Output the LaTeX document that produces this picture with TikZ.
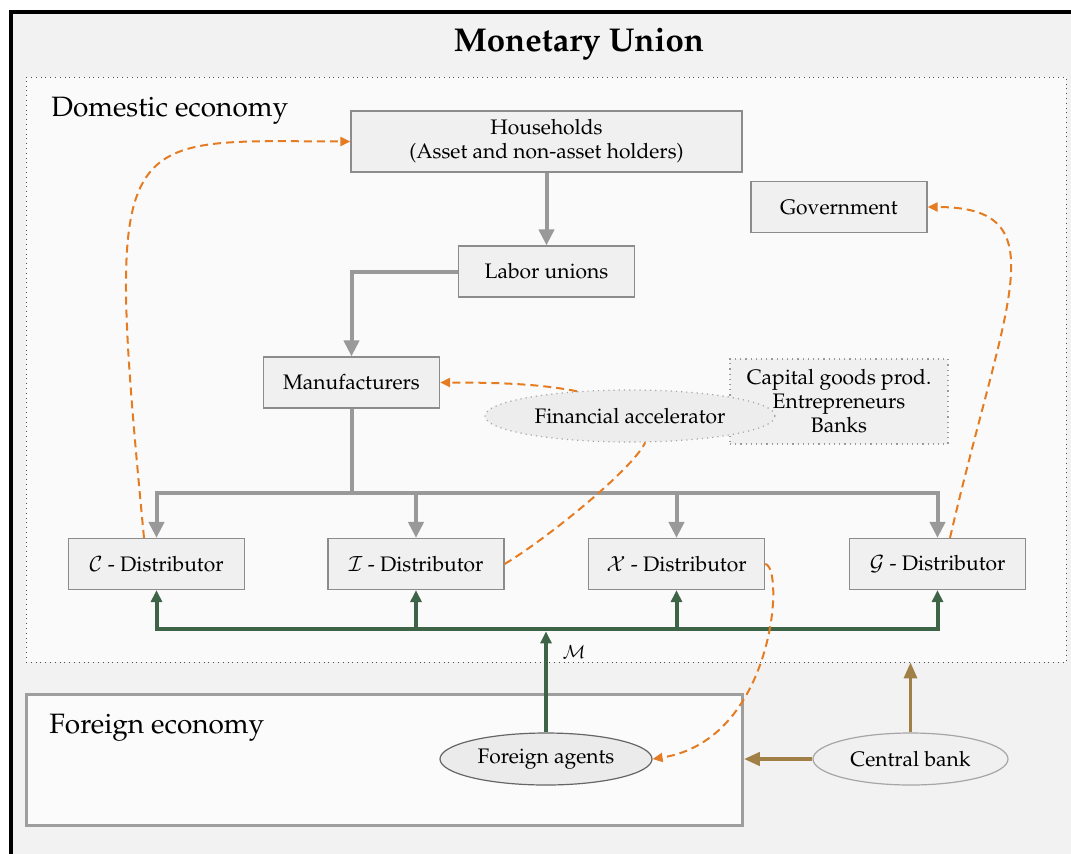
\documentclass[tikz,border=0pt]{standalone}
\usepackage[T1]{fontenc}
\usepackage{mathpazo}
\usepackage{tikz}
\usetikzlibrary{arrows.meta,shapes.geometric}
\definecolor{spillorange}{RGB}{230,124,34}
\definecolor{moneygreen}{RGB}{62,100,72}
\definecolor{policybrown}{RGB}{160,128,70}
\def\bodyfont{\fontsize{10.5}{12}\selectfont}
\tikzset{
	agent/.style={draw=black!45, fill=black!6, line width=0.6pt, minimum width=88pt, minimum height=25.5pt, inner sep=1pt, align=center, font=\bodyfont},
	sector/.style={ellipse, draw=black!45, fill=black!7, line width=0.6pt, minimum height=26pt, inner sep=0pt, font=\bodyfont},
	goods/.style={line width=2pt, color=black!40, -{Triangle[length=8pt, width=7.5pt]}},
	money/.style={line width=2pt, color=moneygreen, -{Triangle[length=6pt, width=5.5pt]}},
	policy/.style={color=policybrown, -{Triangle[length=8pt, width=6.5pt]}},
	spill/.style={line width=1pt, color=spillorange, dash pattern=on 4pt off 2.5pt},
	spillto/.style={spill, -{Triangle[length=5pt, width=4.5pt]}}
}

\begin{document}
\begin{tikzpicture}[x=0.5pt, y=0.5pt]
		%%%%% START %%%%%
		
		\useasboundingbox (0, 0) rectangle (1071, -853);
		\clip (0, 0) rectangle (1071, -853);
		\fill[white] (0, 0) rectangle (1071, -853);
		\draw[line width=2pt, fill=black!5] (10.5, -12) rectangle (1100, -900);
		
		\node[font=\fontsize{16.5}{20}\selectfont\bfseries, anchor=base] (title) at (579, -51.5) {Monetary Union};
		
		\node[draw=black!70, dotted, fill=black!2, minimum width=520pt, minimum height=292.5pt, inner sep=0pt] (dom) at (546, -369.5) {};
		\node[font=\fontsize{14}{16}\selectfont, anchor=base west, inner sep=0pt] (domlabel) at (51, -116) {Domestic economy};
		
		\node[draw=black!38, line width=1.6pt, fill=black!1.5, minimum width=358pt, minimum height=65.5pt, inner sep=0pt] (fe) at (384.25, -760.3) {};
		\node[font=\fontsize{14}{16}\selectfont, anchor=base west, inner sep=0pt] (felabel) at (49, -733) {Foreign economy};
		
		\node[agent, minimum width=195.5pt, minimum height=30.5pt] (hh) at (546.5, -141.5) {Households\\(Asset and non-asset holders)};
		\node[agent] (gov) at (839, -207) {Government};
		\node[agent] (lab) at (546.5, -271.5) {Labor unions};
		\node[agent] (man) at (351.5, -382.5) {Manufacturers};
		\node[agent, dotted, draw=black!40, minimum width=109pt, minimum height=42.5pt] (cap) at (839, -401.5) {Capital goods prod.\\Entrepreneurs\\Banks};
		\node[sector, dotted, draw=black!35, minimum width=145pt] (fa) at (630, -416) {Financial accelerator};
		
		\node[agent] (cd) at (156.5, -564) {$\mathcal{C}$ - Distributor};
		\node[agent] (id) at (416, -564) {$\mathcal{I}$ - Distributor};
		\node[agent] (xd) at (676.5, -564) {$\mathcal{X}$ - Distributor};
		\node[agent] (gd) at (937.5, -564) {$\mathcal{G}$ - Distributor};
		
		\node[sector, draw=black!60, fill=black!8, minimum width=106pt] (fag) at (546, -759) {Foreign agents};
		\node[sector, draw=black!35, fill=black!6, minimum width=97.5pt] (cb) at (910.5, -759) {Central bank};
		
		% goods flow
		\draw[goods] (hh) -- (lab);
		\draw[goods] (lab.west) -| (man.north);
		\draw[line width=2pt, color=black!40] (man.south) -- ++(0, -84) coordinate (hub);
		\draw[goods] (hub) -| (cd.north);
		\draw[goods] (hub) -| (gd.north);
		\draw[goods] (id.north |- hub) -- (id.north);
		\draw[goods] (xd.north |- hub) -- (xd.north);
		
		% imports
		\path (fag.north) ++(0, 103) coordinate (mhub);
		\draw[money] (mhub) -| (cd.south);
		\draw[money] (mhub) -| (gd.south);
		\draw[money] (id.south |- mhub) -- (id.south);
		\draw[money] (xd.south |- mhub) -- (xd.south);
		\draw[money] (fag.north) -- ([yshift=-1pt]mhub) node[pos=0.8, right=4pt, font=\small, text=black] {$\mathcal{M}$};
		
		% central bank
		\draw[policy, line width=2.4pt] (cb.west) -- (cb.west -| fe.east);
		\draw[policy, line width=1.6pt] (cb.north) -- (cb.north |- dom.south);
		
		% spillovers
		\draw[spillto] ([xshift=-6.25pt]cd.north) .. controls (104, -120) and (115, -141) .. (hh.west);
		\draw[spillto] (fa.155) .. controls (540, -384) and (500, -382.5) .. (man.east);
		\draw[spill] (id.east) .. controls (545, -540) and (632, -470) .. (fa.-60);
		\draw[spillto] ([xshift=6.25pt]gd.north) .. controls (1005, -300) and (1060, -207) .. (gov.east);
		\draw[spillto] (xd.east) .. controls (785, -566) and (775, -740) .. (fag.east);
		
		%%%%% END %%%%%
	\end{tikzpicture}
\end{document}
